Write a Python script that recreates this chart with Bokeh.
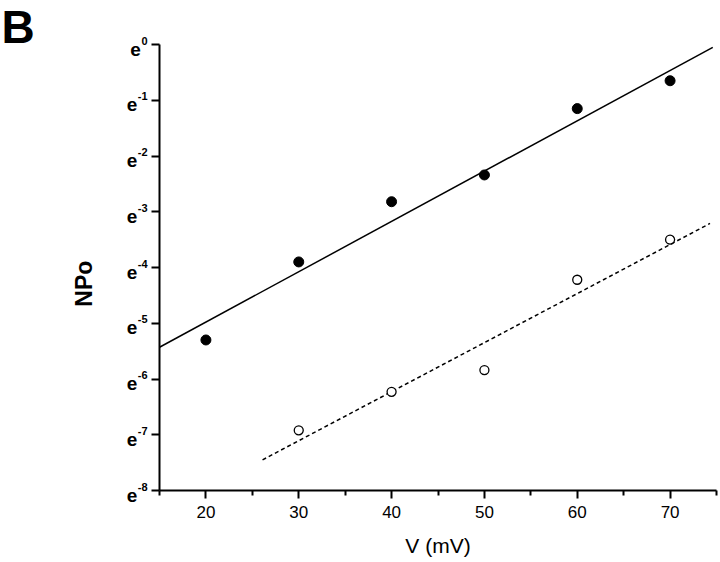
import math
from bokeh.plotting import figure
from bokeh.models import ColumnDataSource, FixedTicker, Range1d, LinearAxis
from bokeh.core.properties import value
from bokeh.embed import file_html
from bokeh.resources import INLINE

# ---- data (ln NPo) ----
filled_v = [20, 30, 40, 50, 60, 70]
filled_ln = [-5.30, -3.90, -2.82, -2.34, -1.15, -0.65]
open_v = [30, 40, 50, 60, 70]
open_ln = [-6.92, -6.23, -5.84, -4.22, -3.50]
fit_filled_v = [15.0, 74.6]
fit_filled_ln = [-5.43, -0.05]
fit_open_v = [26.1, 74.3]
fit_open_ln = [-7.45, -3.21]

x_bounds = (15, 75)
y_bounds = (-8, 0)
x_major = [20, 30, 40, 50, 60, 70]
x_minor = [15, 25, 35, 45, 55, 65, 75]
y_ticks = [0, -1, -2, -3, -4, -5, -6, -7, -8]
y_sup = ["0", "-1", "-2", "-3", "-4", "-5", "-6", "-7", "-8"]

FONT = "Liberation Sans"
W, H = 720, 562
# pixel placement of the axes box inside the canvas (style, not data)
LEFT, RIGHT, TOP, BOTTOM = 159, 716, 44, 490

xs_per_px = (x_bounds[1] - x_bounds[0]) / (RIGHT - LEFT)
ys_per_px = (y_bounds[1] - y_bounds[0]) / (BOTTOM - TOP)
x_range = Range1d(x_bounds[0] - LEFT * xs_per_px, x_bounds[1] + (W - RIGHT) * xs_per_px)
y_range = Range1d(y_bounds[0] - (H - BOTTOM) * ys_per_px, y_bounds[1] + TOP * ys_per_px)

p = figure(width=W, height=H, x_range=x_range, y_range=y_range,
           output_backend="svg", toolbar_location=None, title=None,
           x_axis_location=None, y_axis_location=None,
           min_border=0)
p.outline_line_color = None
p.background_fill_color = "white"
p.border_fill_color = "white"
p.xgrid.visible = False
p.ygrid.visible = False

# x axis, placed at the bottom of the data box
xa = LinearAxis(fixed_location=y_bounds[0], bounds=x_bounds,
                ticker=FixedTicker(ticks=x_major, minor_ticks=x_minor))
xa.axis_line_width = 2
xa.axis_line_color = "black"
xa.major_tick_line_width = 2
xa.major_tick_out = 8
xa.major_tick_in = 0
xa.minor_tick_line_width = 2
xa.minor_tick_out = 5
xa.minor_tick_in = 0
xa.major_label_text_font = FONT
xa.major_label_text_font_size = "17px"
xa.major_label_text_color = "black"
xa.major_label_standoff = 7
xa.axis_label = "V (mV)"
xa.axis_label_text_font = FONT
xa.axis_label_text_font_size = "21px"
xa.axis_label_text_font_style = "normal"
xa.axis_label_text_color = "black"
xa.axis_label_standoff = 13
p.add_layout(xa, "below")

# y axis, placed at the left of the data box (labels drawn below as e^k)
ya = LinearAxis(fixed_location=x_bounds[0], bounds=y_bounds,
                ticker=FixedTicker(ticks=y_ticks, minor_ticks=[]))
ya.axis_line_width = 2
ya.axis_line_color = "black"
ya.major_tick_line_width = 2
ya.major_tick_out = 8
ya.major_tick_in = 0
ya.minor_tick_out = 0
ya.minor_tick_in = 0
ya.major_label_overrides = {t: " " for t in y_ticks}
p.add_layout(ya, "left")

# fit lines
p.line(fit_filled_v, fit_filled_ln, line_color="black", line_width=1.5)
p.line(fit_open_v, fit_open_ln, line_color="black", line_width=1.5, line_dash="4 3")

# points
p.scatter(filled_v, filled_ln, marker="circle", size=10, fill_color="black", line_color="black")
p.scatter(open_v, open_ln, marker="circle", size=9, fill_color="white", line_color="black", line_width=1.3)

# y tick labels e^k
def sup_w(s):
    return sum(3.7 if c == "-" else 6.1 for c in s)

src = ColumnDataSource(dict(
    x=[x_bounds[0]] * len(y_ticks), y=y_ticks, e=["e"] * len(y_ticks), sup=y_sup,
    e_off=[-(12.5 + sup_w(s)) for s in y_sup],
))
p.text(x="x", y="y", text="sup", source=src, x_offset=-12, y_offset=-4,
       text_align="right", text_baseline="middle",
       text_font=value(FONT), text_font_size="11px", text_font_style="bold", text_color="black")
p.text(x="x", y="y", text="e", source=src, x_offset="e_off", y_offset=4.5,
       text_align="right", text_baseline="middle",
       text_font=value(FONT), text_font_size="19px", text_font_style="bold", text_color="black")

# y axis title
p.text(x=[x_bounds[0]], y=[-4.29], text=["NPo"], x_offset=-76, angle=math.pi / 2,
       text_align="center", text_baseline="middle",
       text_font=value(FONT), text_font_size="23px", text_font_style="bold", text_color="black")

# panel letter
p.text(x=[x_range.start], y=[y_range.end], text=["B"], x_offset=1, y_offset=26,
       text_align="left", text_baseline="alphabetic",
       text_font=value(FONT), text_font_size="46px", text_font_style="bold", text_color="black")

open("out.html", "w").write(file_html(p, INLINE))
